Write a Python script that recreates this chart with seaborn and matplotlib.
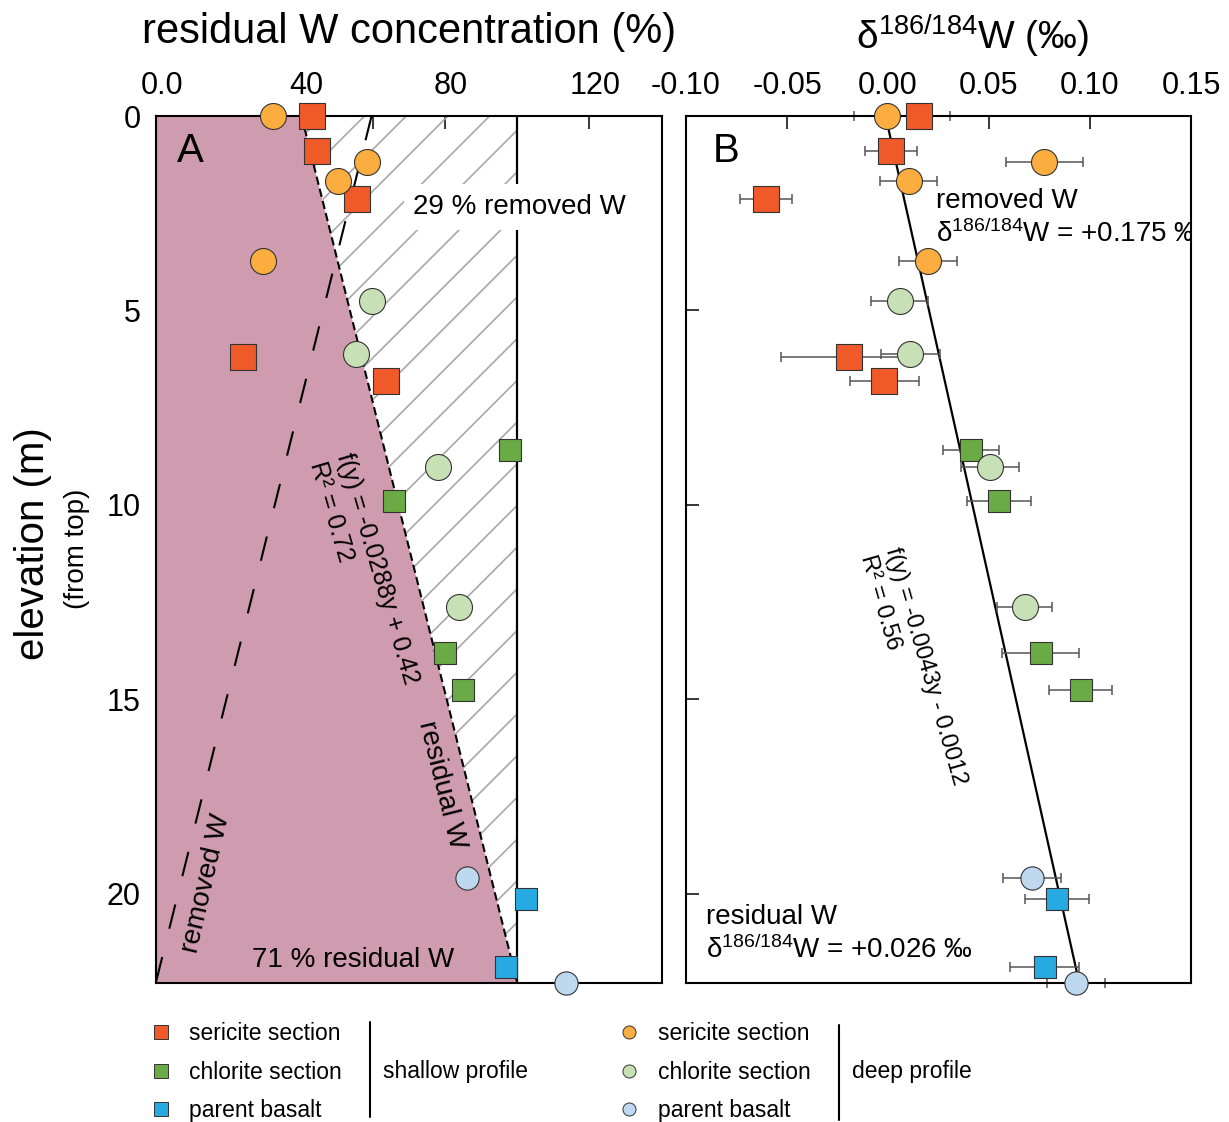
import numpy as np
import pandas as pd
import seaborn as sns
import matplotlib.pyplot as plt
from matplotlib.patches import Polygon
from matplotlib.lines import Line2D
from matplotlib.ticker import FormatStrFormatter
from matplotlib.transforms import ScaledTranslation

sns.set_style("ticks")
plt.rcParams["font.family"] = ["Liberation Sans", "DejaVu Sans"]
plt.rcParams["mathtext.fontset"] = "custom"
plt.rcParams["mathtext.rm"] = "Liberation Sans"
plt.rcParams["axes.unicode_minus"] = False
for k in ["text.color", "axes.labelcolor", "xtick.color", "ytick.color", "axes.edgecolor"]:
    plt.rcParams[k] = "black"

# ---- data ---------------------------------------------------------------
# depth below top of profile (m)
sh_ser_depth = [0.0, 0.90, 2.13, 6.20, 6.82]
sh_chl_depth = [8.60, 9.91, 13.80, 14.76]
sh_bas_depth = [20.15, 21.88]
dp_ser_depth = [0.0, 1.18, 1.67, 3.73]
dp_chl_depth = [4.76, 6.11, 9.03, 12.63]
dp_bas_depth = [19.60, 22.30]

# residual W concentration (%)
sh_ser_conc = [43.3, 44.5, 55.8, 24.2, 63.6]
sh_chl_conc = [98.1, 65.8, 80.1, 85.0]
sh_bas_conc = [102.5, 97.0]
dp_ser_conc = [32.5, 58.5, 50.5, 29.7]
dp_chl_conc = [59.9, 55.5, 78.1, 84.0]
dp_bas_conc = [86.1, 113.5]

# d186/184W (permil) and 2SD
sh_ser_d186 = [0.0155, 0.0015, -0.0604, -0.0192, -0.0018]
sh_ser_err = [0.015, 0.013, 0.013, 0.034, 0.017]
sh_chl_d186 = [0.0411, 0.0549, 0.0755, 0.0953]
sh_chl_err = [0.014, 0.016, 0.019, 0.0155]
sh_bas_d186 = [0.0837, 0.0776]
sh_bas_err = [0.016, 0.017]
dp_ser_d186 = [-0.0005, 0.0774, 0.0102, 0.0198]
dp_ser_err = [0.0165, 0.019, 0.014, 0.0146]
dp_chl_d186 = [0.0057, 0.011, 0.0506, 0.0676]
dp_chl_err = [0.014, 0.0145, 0.0143, 0.0136]
dp_bas_d186 = [0.0713, 0.0930]
dp_bas_err = [0.0144, 0.0144]

# trend lines
resid_icpt, resid_slope = 40.3, 2.68      # residual W (%) vs depth, as drawn
iso_icpt, iso_slope = -0.0012, 0.0043     # d186W vs depth

groups = ["sh_ser", "sh_chl", "sh_bas", "dp_ser", "dp_chl", "dp_bas"]
labels = ["sericite section", "chlorite section", "parent basalt"] * 2
colors = ["#f05a28", "#6aab46", "#27aae1", "#fbad40", "#c7e0b5", "#bed8ef"]
markers = ["s", "s", "s", "o", "o", "o"]
msize = [350, 230, 230, 350, 350, 280]

depths = [sh_ser_depth, sh_chl_depth, sh_bas_depth, dp_ser_depth, dp_chl_depth, dp_bas_depth]
concs = [sh_ser_conc, sh_chl_conc, sh_bas_conc, dp_ser_conc, dp_chl_conc, dp_bas_conc]
d186s = [sh_ser_d186, sh_chl_d186, sh_bas_d186, dp_ser_d186, dp_chl_d186, dp_bas_d186]
errs = [sh_ser_err, sh_chl_err, sh_bas_err, dp_ser_err, dp_chl_err, dp_bas_err]

df = pd.concat([pd.DataFrame({"group": g, "depth": d, "conc": c, "d186": v, "err": e})
                for g, d, c, v, e in zip(groups, depths, concs, d186s, errs)],
               ignore_index=True)

ymax = 22.3
depth_line = np.array([0.0, ymax])
resid_line = resid_icpt + resid_slope * depth_line
removed_line = 100 - resid_line
iso_line = iso_icpt + iso_slope * depth_line

fig = plt.figure(figsize=(12.29, 11.22), dpi=100)
axA = fig.add_axes([156 / 1229, 1 - 983 / 1122, 505.5 / 1229, 867 / 1122])
axB = fig.add_axes([686 / 1229, 1 - 983 / 1122, 505 / 1229, 867 / 1122])

# ---- panel A -------------------------------------------------------------
pink = Polygon([[0, 0], [resid_line[0], 0], [resid_line[1], ymax], [0, ymax]],
               closed=True, facecolor="#cf9caf", edgecolor="none", zorder=1)
axA.add_patch(pink)
hatch_area = Polygon([[resid_line[0], 0], [100, 0], [100, ymax], [resid_line[1], ymax]],
                     closed=True, facecolor="none", edgecolor="none")
axA.add_patch(hatch_area)

# diagonal hatching drawn by hand (45 deg on screen)
bb = axA.get_position()
W = bb.width * fig.get_figwidth() * fig.dpi
H = bb.height * fig.get_figheight() * fig.dpi
for c in np.arange(-H, W, 41.7):
    ln, = axA.plot([c / W, (c + H) / W], [0, 1], transform=axA.transAxes,
                   color="#a8a8a8", lw=1.2, zorder=1.5)
    ln.set_clip_path(hatch_area)

axA.axvline(100, color="black", lw=1.6, zorder=2)
axA.plot(resid_line, depth_line, color="black", lw=1.5, dashes=(4, 2), zorder=2)
axA.plot(removed_line, depth_line, color="black", lw=1.5, dashes=(12, 14), zorder=2)

for i, g in enumerate(groups):
    sub = df[df.group == g]
    sns.scatterplot(data=sub, x="conc", y="depth", ax=axA, color=colors[i],
                    marker=markers[i], s=msize[i], edgecolor="#333333",
                    linewidth=0.8, zorder=5, clip_on=False, legend=False)

axA.text(0.042, 0.947, "A", transform=axA.transAxes, fontsize=29, ha="left", va="baseline")
axA.text(0.509, 0.887, "29 % removed W", transform=axA.transAxes, fontsize=20,
         ha="left", va="baseline", zorder=3,
         bbox=dict(boxstyle="square,pad=0.35", facecolor="white", edgecolor="none"))
axA.text(0.189, 0.0188, "71 % residual W", transform=axA.transAxes, fontsize=20,
         ha="left", va="baseline", zorder=3)
axA.text(57.5, 11.75, "f(y) = -0.0288y + 0.42\nR² = 0.72", fontsize=18, rotation=-73.6,
         rotation_mode="anchor", ha="center", va="center", multialignment="left", zorder=3)
axA.text(79.2, 17.2, "residual W", fontsize=20, rotation=-76, rotation_mode="anchor",
         ha="center", va="center", zorder=3)
axA.text(13.9, 19.75, "removed W", fontsize=20, rotation=77, rotation_mode="anchor",
         ha="center", va="center", zorder=3)

axA.set_xlim(0, 140)
axA.set_ylim(ymax, 0)
axA.xaxis.tick_top()
axA.set_xticks([0, 40, 80, 120])
axA.set_xticklabels(["0.0", "40", "80", "120"])
axA.set_xticks([60, 100], minor=True)
axA.set_yticks([0, 5, 10, 15, 20])
axA.set_xlabel("")
axA.set_ylabel("")

# ---- panel B -------------------------------------------------------------
axB.plot(iso_line, depth_line, color="black", lw=1.6, zorder=2)
for i, g in enumerate(groups):
    sub = df[df.group == g]
    axB.errorbar(sub.d186, sub.depth, xerr=sub.err, fmt="none", ecolor="#555555",
                 elinewidth=1.1, capsize=3.3, capthick=1.1, zorder=3, clip_on=False)
    sns.scatterplot(data=sub, x="d186", y="depth", ax=axB, color=colors[i],
                    marker=markers[i], s=msize[i], edgecolor="#333333",
                    linewidth=0.8, zorder=5, clip_on=False, legend=False)

axB.text(0.0535, 0.947, "B", transform=axB.transAxes, fontsize=29, ha="left", va="baseline")
axB.text(0.495, 0.8935, "removed W", transform=axB.transAxes, fontsize=20, va="baseline")
axB.text(0.495, 0.855, r"$\mathregular{\delta^{186/184}}$W = +0.175 ‰", transform=axB.transAxes,
         fontsize=20, va="baseline", clip_on=True)
axB.text(0.0396, 0.068, "residual W", transform=axB.transAxes, fontsize=20, va="baseline")
axB.text(0.0396, 0.0292, r"$\mathregular{\delta^{186/184}}$W = +0.026 ‰", transform=axB.transAxes,
         fontsize=20, va="baseline")
axB.text(0.0125, 14.25, "f(y) = -0.0043y - 0.0012\nR² = 0.56", fontsize=17, rotation=-74,
         rotation_mode="anchor", ha="center", va="center", multialignment="left", zorder=3)

axB.set_xlim(-0.10, 0.15)
axB.set_ylim(ymax, 0)
axB.xaxis.tick_top()
axB.set_xticks([-0.10, -0.05, 0.0, 0.05, 0.10, 0.15])
axB.xaxis.set_major_formatter(FormatStrFormatter("%.2f"))
axB.set_yticks([0, 5, 10, 15, 20])
axB.set_yticklabels([])
axB.set_xlabel("")
axB.set_ylabel("")

for ax in (axA, axB):
    for sp in ax.spines.values():
        sp.set_linewidth(1.5)
        sp.set_color("black")
        sp.set_zorder(4)
    ax.tick_params(which="both", direction="in", length=9, width=1.1, color="black",
                   labelcolor="black", labelsize=22, pad=11)
    ax.tick_params(axis="x", which="both", top=True, bottom=False)
    ax.tick_params(axis="y", which="both", left=True, right=False)

# panel A top labels sit a little right of their ticks in the original
shift = ScaledTranslation(6 / 100, 0, fig.dpi_scale_trans)
for lab in axA.get_xticklabels():
    lab.set_transform(lab.get_transform() + shift)

# ---- titles & axis labels ------------------------------------------------
fig.text(0.3332, 1 - 32 / 1122, "residual W concentration (%)", fontsize=30, ha="center", va="center")
fig.text(0.791, 1 - 36 / 1122, r"$\mathregular{\delta^{186/184}}$W (‰)", fontsize=28,
         ha="center", va="center")
fig.text(33 / 1229, 1 - 544 / 1122, "elevation (m)", fontsize=29, rotation=90, ha="center", va="center")
fig.text(77 / 1229, 1 - 549 / 1122, "(from top)", fontsize=20, rotation=90, ha="center", va="center")

# ---- legend --------------------------------------------------------------
def handles(idx):
    return [Line2D([], [], marker=markers[i], linestyle="none", markersize=9.4,
                   markerfacecolor=colors[i], markeredgecolor="#333333",
                   markeredgewidth=0.7, label=labels[i]) for i in idx]

leg_kw = dict(loc="upper left", frameon=False, fontsize=16.5, handlelength=0.8,
              handletextpad=0.85, labelspacing=0.68, borderpad=0, borderaxespad=0)
fig.legend(handles=handles([0, 1, 2]), bbox_to_anchor=(151.5 / 1229, 1 - 1022 / 1122), **leg_kw)
fig.legend(handles=handles([3, 4, 5]), bbox_to_anchor=(620.1 / 1229, 1 - 1022 / 1122), **leg_kw)
fig.add_artist(Line2D([370 / 1229] * 2, [1 - 1021.7 / 1122, 1 - 1116.7 / 1122],
                      transform=fig.transFigure, color="black", lw=1.5))
fig.add_artist(Line2D([839.3 / 1229] * 2, [1 - 1025 / 1122, 1 - 1120 / 1122],
                      transform=fig.transFigure, color="black", lw=1.5))
fig.text(383.3 / 1229, 1 - 1071.7 / 1122, "shallow profile", fontsize=16.5, va="center")
fig.text(851.7 / 1229, 1 - 1071.7 / 1122, "deep profile", fontsize=16.5, va="center")

fig.savefig("out.png", dpi=100, facecolor="white")
